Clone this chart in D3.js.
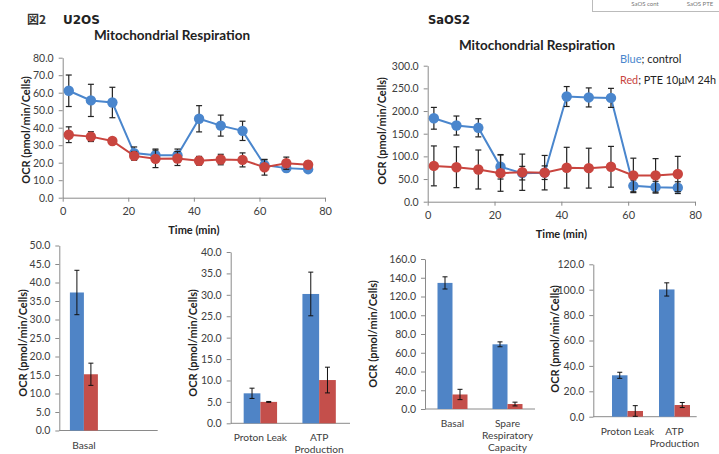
<!DOCTYPE html>
<html><head><meta charset="utf-8">
<script src="https://cdn.jsdelivr.net/npm/d3@7"></script>
<style>
body{margin:0;background:#fff;}
svg{display:block;font-family:Lato,"Open Sans",sans-serif;}
</style></head>
<body><svg id="c" width="719" height="454"></svg>
<script>
// ---------- data ----------
const times = [1.85, 8.6, 15.15, 21.8, 28.3, 35.0, 41.6, 48.2, 54.85, 61.55, 68.2, 74.85];
const timeTicks = [0, 20, 40, 60, 80];

const u2osCtrl    = [61.1, 55.6, 54.4, 25.5, 24.3, 24.3, 45.1, 41.2, 38.2, 18.6, 16.9, 16.3];
const u2osCtrlErr = [9.0, 9.2, 8.7, 3.5, 3.5, 3.5, 7.5, 6.0, 5.5, 3.0, 2.0, 1.5];
const u2osPte     = [36.0, 34.9, 32.4, 23.9, 22.2, 22.4, 21.1, 21.8, 21.6, 17.4, 19.7, 18.8];
const u2osPteErr  = [4.5, 2.8, 1.5, 2.5, 5.0, 4.0, 2.5, 3.0, 4.0, 4.5, 3.5, 2.0];

const saosCtrl    = [184, 168, 163, 77, 63, 64, 232, 230, 229, 35, 32, 31];
const saosCtrlErr = [24, 21, 20, 27, 15, 15, 22, 21, 21, 13, 13, 13];
const saosPte     = [79, 76, 71, 63, 65, 64, 75, 74, 77, 58, 58, 61];
const saosPteErr  = [44, 45, 43, 40, 40, 38, 45, 44, 45, 38, 37, 39];

const u2osBasalCats    = ["Basal", ""];
const u2osBasalCtrl    = [37.3, null];
const u2osBasalCtrlErr = [6.0, null];
const u2osBasalPte     = [15.2, null];
const u2osBasalPteErr  = [3.0, null];

const energyCats       = ["Proton Leak", "ATP\nProduction"];
const u2osEnergyCtrl    = [7.0, 30.2];
const u2osEnergyCtrlErr = [1.2, 5.1];
const u2osEnergyPte     = [5.0, 10.1];
const u2osEnergyPteErr  = [0.1, 3.0];

const saosBasalCats    = ["Basal", "Spare\nRespiratory\nCapacity"];
const saosBasalCtrl    = [134.5, 69.0];
const saosBasalCtrlErr = [6.5, 2.6];
const saosBasalPte     = [15.5, 5.3];
const saosBasalPteErr  = [5.5, 2.0];

const saosEnergyCtrl    = [32.6, 100.2];
const saosEnergyCtrlErr = [2.4, 5.2];
const saosEnergyPte     = [4.5, 9.2];
const saosEnergyPteErr  = [4.2, 2.0];

const yLabel = "OCR (pmol/min/Cells)";

// ---------- styles ----------
const BLUE = "#4a86cd", RED = "#c9453f";
const BAR_BLUE = "#4f84c6", BAR_RED = "#c44f4b";
const AXIS = "#8a8a8a", TXT = "#404040";

const svg = d3.select("#c");
svg.append("rect").attr("width",719).attr("height",454).attr("fill","#fff");

function styleAxis(g){
  g.select(".domain").attr("stroke", AXIS);
  g.selectAll(".tick line").attr("stroke", AXIS);
  g.selectAll(".tick text").attr("fill", TXT).attr("font-size", 10.5).attr("font-family","Lato");
}

function yTitle(x, y, size){
  svg.append("text").attr("transform",`translate(${x},${y}) rotate(-90)`)
    .attr("text-anchor","middle").attr("dominant-baseline","central")
    .attr("font-weight","bold").attr("font-size", size || 11).attr("fill","#222").text(yLabel);
}

function lineChart(cfg){
  const x = d3.scaleLinear().domain([0,80]).range([cfg.x0, cfg.x1]);
  const y = d3.scaleLinear().domain([0,cfg.ymax]).range([cfg.yb, cfg.yt]);
  const gy = svg.append("g").attr("transform",`translate(${cfg.x0},0)`)
    .call(d3.axisLeft(y).tickValues(d3.range(0,cfg.ymax+0.001,cfg.step)).tickFormat(d3.format(".1f")).tickSize(4).tickPadding(5).tickSizeOuter(0));
  styleAxis(gy);
  const gx = svg.append("g").attr("transform",`translate(0,${cfg.yb})`)
    .call(d3.axisBottom(x).tickValues(timeTicks).tickSize(4).tickPadding(6).tickSizeOuter(0));
  styleAxis(gx);
  gx.selectAll(".tick text").attr("font-size", 11);
  const series = [
    {v: cfg.ctrl, e: cfg.ctrlErr, c: BLUE},
    {v: cfg.pte,  e: cfg.pteErr,  c: RED}
  ];
  const line = d3.line().x((d,i)=>x(times[i])).y(d=>y(d));
  series.forEach(s=>{
    const g = svg.append("g");
    g.append("path").datum(s.v).attr("d", line).attr("fill","none").attr("stroke", s.c).attr("stroke-width",2);
    const eb = g.selectAll("g.eb").data(s.v).join("g");
    eb.append("line").attr("x1",(d,i)=>x(times[i])).attr("x2",(d,i)=>x(times[i]))
      .attr("y1",(d,i)=>y(d+s.e[i])).attr("y2",(d,i)=>y(d-s.e[i])).attr("stroke","#222").attr("stroke-width",1.2);
    [1,-1].forEach(sg=>{
      eb.append("line").attr("x1",(d,i)=>x(times[i])-3).attr("x2",(d,i)=>x(times[i])+3)
        .attr("y1",(d,i)=>y(d+sg*s.e[i])).attr("y2",(d,i)=>y(d+sg*s.e[i])).attr("stroke","#222").attr("stroke-width",1.2);
    });
    g.selectAll("circle").data(s.v).join("circle").attr("cx",(d,i)=>x(times[i])).attr("cy",d=>y(d))
      .attr("r",5.2).attr("fill",s.c);
  });
  svg.append("text").attr("x",(cfg.x0+cfg.x1)/2).attr("y",cfg.yb+36).attr("text-anchor","middle")
    .attr("font-weight","bold").attr("font-size",11).attr("fill","#222").text("Time (min)");
}

function barChart(cfg){
  const y = d3.scaleLinear().domain([0,cfg.ymax]).range([cfg.yb, cfg.yt]);
  const x = d3.scaleBand().domain(cfg.cats.map((c,i)=>i)).range([cfg.b0, cfg.b1]);
  const gy = svg.append("g").attr("transform",`translate(${cfg.x0},0)`)
    .call(d3.axisLeft(y).tickValues(d3.range(0,cfg.ymax+0.001,cfg.step)).tickFormat(d3.format(".1f")).tickSize(4).tickPadding(5).tickSizeOuter(0));
  styleAxis(gy);
  svg.append("line").attr("x1",cfg.x0).attr("x2",cfg.x1).attr("y1",cfg.yb).attr("y2",cfg.yb).attr("stroke",AXIS);
  const bw = cfg.bw;
  const series = [
    {v: cfg.ctrl, e: cfg.ctrlErr, c: BAR_BLUE, off: -bw},
    {v: cfg.pte,  e: cfg.pteErr,  c: BAR_RED,  off: 0}
  ];
  series.forEach(s=>{
    s.v.forEach((d,i)=>{
      if(d==null) return;
      const cx = x(i) + x.bandwidth()/2 + s.off;
      svg.append("rect").attr("x",cx).attr("width",bw).attr("y",y(d)).attr("height",cfg.yb-y(d)).attr("fill",s.c);
      const mx = cx + bw/2, e = s.e[i];
      svg.append("line").attr("x1",mx).attr("x2",mx).attr("y1",y(d+e)).attr("y2",y(d-e)).attr("stroke","#111").attr("stroke-width",1);
      [e,-e].forEach(k=>svg.append("line").attr("x1",mx-2.5).attr("x2",mx+2.5).attr("y1",y(d+k)).attr("y2",y(d+k)).attr("stroke","#111").attr("stroke-width",1));
    });
  });
  cfg.cats.forEach((c,i)=>{
    const lines = c.split("\n");
    const t = svg.append("text").attr("text-anchor","middle").attr("font-size",10.2).attr("fill",TXT);
    lines.forEach((l,j)=>t.append("tspan").attr("x", x(i)+x.bandwidth()/2).attr("y", cfg.yb+18+j*11.8).text(l));
  });
}

// ---------- headers ----------
svg.append("text").attr("x",27).attr("y",24).attr("font-family","'Noto Sans CJK JP'").attr("font-weight","bold").attr("font-size",12).attr("fill","#333").text("図2");
svg.append("text").attr("x",63).attr("y",24).attr("font-family","'DejaVu Sans'").attr("font-weight","bold").attr("font-size",12).attr("fill","#222").text("U2OS");
svg.append("text").attr("x",428).attr("y",24).attr("font-family","'DejaVu Sans'").attr("font-weight","bold").attr("font-size",11.5).attr("fill","#222").text("SaOS2");
svg.append("text").attr("x",172).attr("y",40).attr("text-anchor","middle").attr("font-weight","bold").attr("font-size",13.5).attr("fill","#222").text("Mitochondrial Respiration");
svg.append("text").attr("x",537).attr("y",50).attr("text-anchor","middle").attr("font-weight","bold").attr("font-size",13.5).attr("fill","#222").text("Mitochondrial Respiration");

// legend
const lg1 = svg.append("text").attr("x",620).attr("y",63).attr("font-size",11).attr("fill","#222");
lg1.append("tspan").attr("fill",BLUE).text("Blue");
lg1.append("tspan").text("; control");
const lg2 = svg.append("text").attr("x",620).attr("y",84).attr("font-size",11).attr("fill","#222")
  .attr("textLength",96).attr("lengthAdjust","spacingAndGlyphs");
lg2.append("tspan").attr("fill",RED).text("Red");
lg2.append("tspan").text("; PTE 10μM 24h");

// cropped box top right
svg.append("rect").attr("x",592.5).attr("y",-5).attr("width",140).attr("height",16.5).attr("fill","#fff").attr("stroke","#bbb");
svg.append("text").attr("x",645).attr("y",6).attr("text-anchor","middle").attr("font-size",6).attr("fill","#777").text("SaOS cont");
svg.append("text").attr("x",700).attr("y",6).attr("text-anchor","middle").attr("font-size",6).attr("fill","#777").text("SaOS PTE");

// ---------- charts ----------
lineChart({x0:62.7, x1:325, yb:197.7, yt:57.7, ymax:80, step:10,
  ctrl:u2osCtrl, ctrlErr:u2osCtrlErr, pte:u2osPte, pteErr:u2osPteErr});
yTitle(25, 130);
lineChart({x0:427.7, x1:695, yb:201.7, yt:65.7, ymax:300, step:50,
  ctrl:saosCtrl, ctrlErr:saosCtrlErr, pte:saosPte, pteErr:saosPteErr});
yTitle(381, 131);

barChart({x0:59.3, x1:157.7, b0:59.3, b1:157.7, yb:430.5, yt:245.5, ymax:50, step:5, bw:14,
  cats:u2osBasalCats, ctrl:u2osBasalCtrl, ctrlErr:u2osBasalCtrlErr, pte:u2osBasalPte, pteErr:u2osBasalPteErr});
yTitle(22, 343);
barChart({x0:230.7, x1:350, b0:231, b1:348.5, yb:423.3, yt:252, ymax:40, step:5, bw:16.7,
  cats:energyCats, ctrl:u2osEnergyCtrl, ctrlErr:u2osEnergyCtrlErr, pte:u2osEnergyPte, pteErr:u2osEnergyPteErr});
yTitle(192, 343);
barChart({x0:425, x1:535, b0:425, b1:535, yb:409, yt:259, ymax:160, step:20, bw:15,
  cats:saosBasalCats, ctrl:saosBasalCtrl, ctrlErr:saosBasalCtrlErr, pte:saosBasalPte, pteErr:saosBasalPteErr});
yTitle(372, 334);
barChart({x0:593.3, x1:696.7, b0:604, b1:698, yb:416.7, yt:264.3, ymax:120, step:20, bw:15.5,
  cats:energyCats, ctrl:saosEnergyCtrl, ctrlErr:saosEnergyCtrlErr, pte:saosEnergyPte, pteErr:saosEnergyPteErr});
yTitle(554, 339);
</script></body></html>
